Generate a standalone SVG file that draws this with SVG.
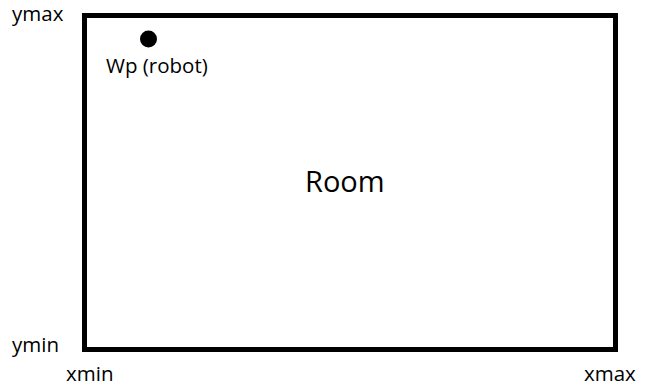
<svg xmlns="http://www.w3.org/2000/svg" width="645" height="387" viewBox="0 0 645 387">
<style>
.lbl{font-family:"Open Sans","Noto Sans","DejaVu Sans",sans-serif;font-size:20.5px;fill:#000}
.big{font-family:"Open Sans","Noto Sans","DejaVu Sans",sans-serif;font-size:29px;fill:#000}
</style>
<rect width="645" height="387" fill="#fff"/>
<g id="room">
<rect x="84.5" y="15.5" width="531" height="334" fill="none" stroke="#000" stroke-width="5"/>
<text class="big" x="305" y="192">Room</text>
</g>
<g id="robot">
<circle cx="148.5" cy="39" r="8.5" fill="#000"/>
<text class="lbl" x="106" y="73">Wp (robot)</text>
</g>
<g id="axes">
<text class="lbl" x="12" y="21">ymax</text>
<text class="lbl" x="12" y="352">ymin</text>
<text class="lbl" x="66" y="381">xmin</text>
<text class="lbl" x="584" y="381">xmax</text>
</g>
<g id="connectors"/>
</svg>
